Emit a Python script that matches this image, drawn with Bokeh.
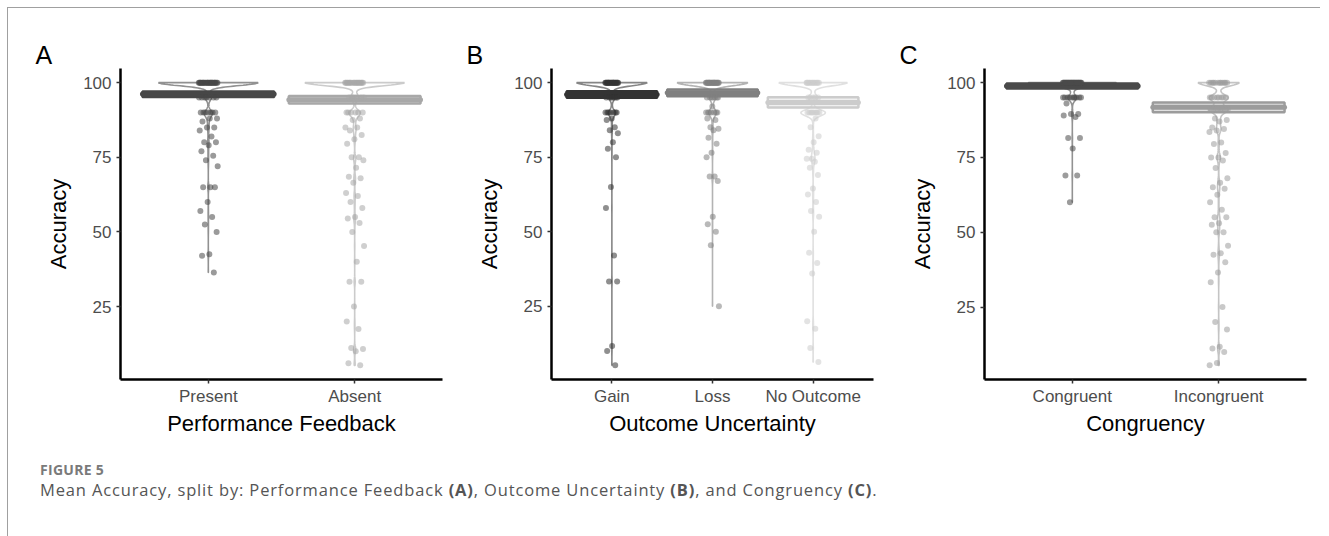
import numpy as np
from bokeh.plotting import figure
from bokeh.models import Range1d, FixedTicker, Div
from bokeh.layouts import row, column
from bokeh.embed import file_html
from bokeh.resources import INLINE

# ---------------- data ----------------
a_categories = ["Present", "Absent"]
a_present = [100] * 28 + [95] * 7 + [90] * 7 + [88, 88, 87, 85, 85, 84, 82, 80, 80, 79, 77, 75.5, 74, 72,
                                              65, 65, 65, 60, 57, 55, 52.5, 50, 42.5, 42, 36.4]
a_absent = [100] * 20 + [95] * 6 + [90] * 6 + [88, 87.5, 85, 85, 84, 82.5, 81, 79.5, 75, 75, 74, 71.5, 68.5,
                                              68, 66.5, 63, 62, 60, 58, 55, 54.5, 53, 50, 45.3, 40, 33.3,
                                              33.3, 25, 20, 17.5, 11.1, 10.8, 10, 6, 5.3]
a_q1 = [95.2, 93.0]
a_median = [96.2, 94.3]
a_q3 = [97.0, 95.5]

b_categories = ["Gain", "Loss", "No Outcome"]
b_gain = [100] * 24 + [95] * 7 + [90] * 7 + [88, 87.5, 85, 84, 83, 80, 77.8, 75, 65, 58, 42, 33.3, 33.3,
                                            11.7, 10, 5.2]
b_loss = [100] * 24 + [95] * 7 + [90] * 7 + [92, 88, 87.5, 85, 84.5, 84, 81.5, 79.5, 76.5, 75, 68.5, 68.5,
                                            67, 55, 52.5, 50, 45.5, 25]
b_no_outcome = [100] * 14 + [95] * 5 + [90] * 8 + [88, 85, 82, 80, 77.5, 76.5, 74.5, 74.5, 73.5, 71.5, 69,
                                                  64.5, 62.5, 60, 57, 55, 50, 43, 39.5, 36, 20, 17.5, 11, 6.3]
b_q1 = [94.9, 95.4, 91.7]
b_median = [96.0, 96.6, 93.3]
b_q3 = [97.1, 97.7, 95.1]

c_categories = ["Congruent", "Incongruent"]
c_congruent = [100] * 34 + [95] * 10 + [93, 89.5, 89.5, 89, 88.5, 81.5, 81.5, 78, 69, 69, 60]
c_incongruent = [100] * 12 + [95] * 8 + [91] * 8 + [88, 87.5, 87, 85, 84.5, 84, 83.5, 80, 79.5, 76.5, 75, 75,
                                                   74, 71.5, 68, 66.5, 65, 64.5, 62.5, 60, 57.5, 55, 55, 53,
                                                   52.5, 50, 50, 45.5, 43, 42.5, 40, 36.5, 33.3, 25, 20, 17.5,
                                                   11.7, 11.1, 10, 6.3, 5.5]
c_q1 = [98.0, 90.1]
c_median = [98.9, 91.8]
c_q3 = [99.7, 93.4]

y_ticks = [25, 50, 75, 100]

# ---------------- style ----------------
FONT = "Liberation Sans"
a_colors = ["#474747", "#a8a8a8"]
b_colors = ["#333333", "#808080", "#cccccc"]
c_colors = ["#4a4a4a", "#9c9c9c"]
a_violin_half = [0.34, 0.34]
b_violin_half = [0.35, 0.35, 0.34]
c_violin_half = [0.30, 0.14]
BOX_HALF = 0.45
JITTER = 0.065
BW = 1.4
FIG_H = 442


def violin_outline(vals, center, half):
    v = np.asarray(vals, dtype=float)
    ys = np.linspace(v.min(), v.max(), 600)
    d = np.exp(-0.5 * ((ys[:, None] - v[None, :]) / BW) ** 2).sum(axis=1)
    d = (d / d.max()) ** 2 * half
    xs = np.concatenate([center + d, (center - d)[::-1]])
    yy = np.concatenate([ys, ys[::-1]])
    return xs, yy


def make_panel(letter, categories, samples, q1, med, q3, colors, vhalf, xlabel, width, left, right):
    n = len(categories)
    allv = np.concatenate([np.asarray(s, dtype=float) for s in samples])
    lo, hi = allv.min(), allv.max()
    pad = 0.05 * (hi - lo)
    p = figure(width=width, height=FIG_H, x_range=Range1d(0.4, n + 0.6),
               y_range=Range1d(lo - pad, hi + pad), output_backend="svg",
               toolbar_location=None, min_border_left=left, min_border_right=right,
               min_border_top=60, min_border_bottom=71)
    p.outline_line_color = None
    p.grid.visible = False
    p.background_fill_color = "white"
    p.border_fill_color = "white"

    for i, (cat, vals) in enumerate(zip(categories, samples)):
        c = i + 1
        col = colors[i]
        xs, ys = violin_outline(vals, c, vhalf[i])
        p.patch(xs, ys, fill_color=None, line_color=col, line_alpha=0.6, line_width=1.6)
        p.quad(left=[c - BOX_HALF], right=[c + BOX_HALF], bottom=[q1[i]], top=[q3[i]],
               fill_color=col, fill_alpha=0.3, line_color=col, line_width=2.5)
        p.segment(x0=[c - BOX_HALF], y0=[med[i]], x1=[c + BOX_HALF], y1=[med[i]],
                  line_color=col, line_width=5, line_cap="round")
        k = np.arange(len(vals))
        jit = ((k * 0.6180339887) % 1.0 * 2 - 1) * JITTER
        p.scatter(c + jit, vals, size=6, fill_color=col, fill_alpha=0.55, line_color=None)

    p.xaxis.ticker = FixedTicker(ticks=list(range(1, n + 1)))
    p.xaxis.major_label_overrides = {i + 1: cat for i, cat in enumerate(categories)}
    p.yaxis.ticker = FixedTicker(ticks=y_ticks)
    p.xaxis.axis_label = xlabel
    p.yaxis.axis_label = "Accuracy"
    for ax in (p.xaxis[0], p.yaxis[0]):
        ax.axis_line_width = 2.5
        ax.axis_line_color = "black"
        ax.major_tick_line_color = "#333333"
        ax.major_tick_line_width = 1.5
        ax.major_tick_out = 4
        ax.major_tick_in = 0
        ax.minor_tick_line_color = None
        ax.major_label_text_font = FONT
        ax.major_label_text_font_size = "17px"
        ax.major_label_text_color = "#4d4d4d"
        ax.axis_label_text_font = FONT
        ax.axis_label_text_font_size = "22px"
        ax.axis_label_text_font_style = "normal"
        ax.axis_label_text_color = "black"
    p.yaxis.major_label_standoff = 5
    p.yaxis.axis_label_standoff = 9
    p.xaxis.major_label_standoff = 3
    p.xaxis.axis_label_standoff = 2

    p.title.text = letter
    p.title.align = "left"
    p.title.offset = -85
    p.title.standoff = 0
    p.title.text_font = FONT
    p.title.text_font_size = "25px"
    p.title.text_font_style = "normal"
    p.title.text_color = "black"
    return p


pa = make_panel("A", a_categories, [a_present, a_absent], a_q1, a_median, a_q3, a_colors,
                a_violin_half, "Performance Feedback", 436, 112, 2)
pb = make_panel("B", b_categories, [b_gain, b_loss, b_no_outcome], b_q1, b_median, b_q3, b_colors,
                b_violin_half, "Outcome Uncertainty", 436, 107, 7)
pc = make_panel("C", c_categories, [c_congruent, c_incongruent], c_q1, c_median, c_q3, c_colors,
                c_violin_half, "Congruency", 440, 104, 14)

caption = Div(
    text=("<div style=\"font-family:'Open Sans';color:#7a7a7a;font-size:14px;font-weight:700;"
          "letter-spacing:0.3px;line-height:18px;margin-top:6px\">FIGURE 5</div>"
          "<div style=\"font-family:'Open Sans';color:#555555;font-size:16.5px;letter-spacing:0.85px;"
          "line-height:22px;margin-top:0px\">"
          "Mean Accuracy, split by: Performance Feedback <b>(A)</b>, Outcome Uncertainty <b>(B)</b>, "
          "and Congruency <b>(C)</b>.</div>"),
    width=1300, height=76, styles={"padding-left": "27px"})

layout = column(row(pa, pb, pc), caption,
                styles={"border-top": "1px solid #a0a0a0", "border-left": "1px solid #a0a0a0",
                        "margin-left": "7px", "margin-top": "7px"})

open("out.html", "w").write(file_html(layout, INLINE))
